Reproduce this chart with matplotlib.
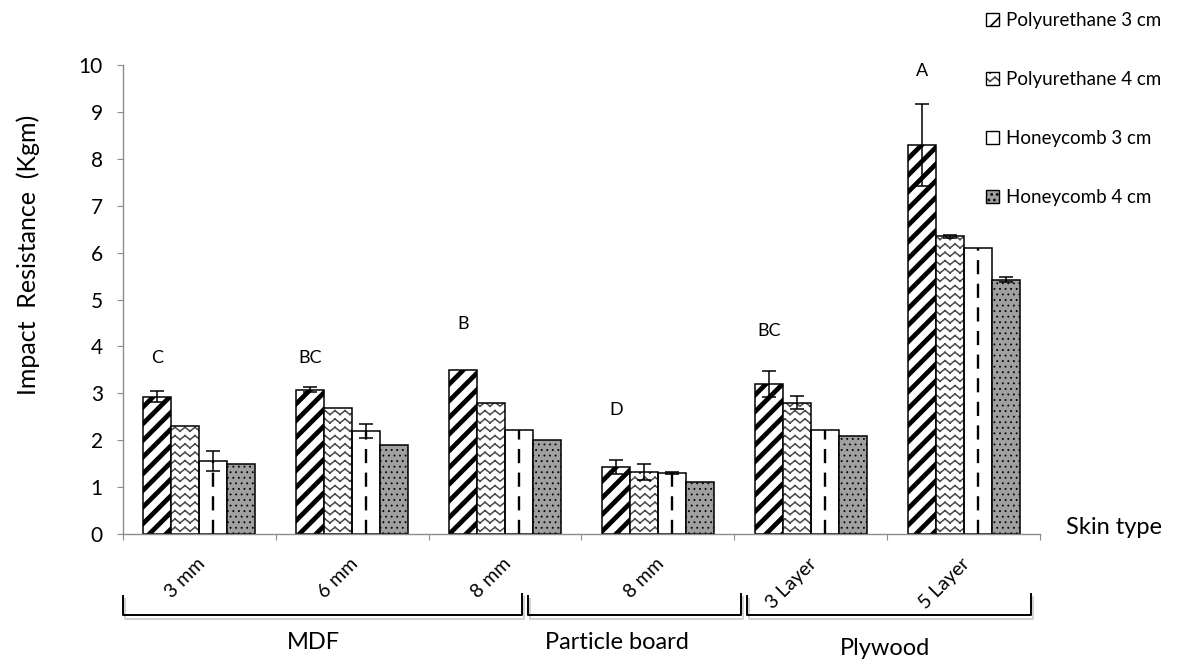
import numpy as np
import matplotlib
matplotlib.use('Agg')
import matplotlib.pyplot as plt
import matplotlib.hatch as mhatch
import matplotlib.patheffects as pe
from matplotlib.path import Path
from matplotlib.patches import Patch
from matplotlib.legend_handler import HandlerTuple
from matplotlib.transforms import blended_transform_factory

# data
skins = ['3 mm', '6 mm', '8 mm', '8 mm', '3 Layer', '5 Layer']
groups = ['MDF', 'Particle board', 'Plywood']
series = ['Polyurethane 3 cm', 'Polyurethane 4 cm', 'Honeycomb 3 cm', 'Honeycomb 4 cm']

pu3 = [2.93, 3.08, 3.50, 1.43, 3.20, 8.29]
pu4 = [2.31, 2.69, 2.80, 1.33, 2.80, 6.35]
hc3 = [1.56, 2.20, 2.22, 1.30, 2.21, 6.09]
hc4 = [1.50, 1.90, 2.00, 1.10, 2.10, 5.42]

pu3_err = [0.11, 0.06, 0.0, 0.15, 0.28, 0.87]
pu4_err = [0.0, 0.0, 0.0, 0.17, 0.14, 0.03]
hc3_err = [0.22, 0.15, 0.0, 0.02, 0.0, 0.0]
hc4_err = [0.0, 0.0, 0.0, 0.0, 0.0, 0.05]

letters = ['C', 'BC', 'B', 'D', 'BC', 'A']
letter_y = [3.76, 3.76, 4.47, 2.65, 4.32, 9.87]


# custom hatches: wide diagonal stripes ('*') and zigzag rows ('o')
class WideDiag(mhatch.HatchPatternBase):
    def __init__(self, hatch, density):
        self.num_lines = hatch.count('*') * 12
        self.num_vertices = (self.num_lines + 1) * 2 if self.num_lines else 0

    def set_vertices_and_codes(self, vertices, codes):
        steps = np.linspace(-0.5, 0.5, self.num_lines + 1)
        vertices[0::2, 0] = 0.0 + steps
        vertices[0::2, 1] = 0.0 - steps
        vertices[1::2, 0] = 1.0 + steps
        vertices[1::2, 1] = 1.0 - steps
        codes[0::2] = Path.MOVETO
        codes[1::2] = Path.LINETO


class ZigZag(mhatch.HatchPatternBase):
    # separate two-point segments so agg has nothing to fill
    waves = 10

    def __init__(self, hatch, density):
        self.rows = hatch.count('o') * 12
        self.num_vertices = self.rows * self.waves * 4

    def set_vertices_and_codes(self, vertices, codes):
        n = 2 * self.waves
        xs = np.linspace(0, 1, n + 1)
        up = np.where(np.arange(n + 1) % 2 == 1, 0.04, 0.0)
        k = 0
        for i in range(self.rows):
            y0 = (i + 0.25) / self.rows
            for j in range(n):
                vertices[k] = (xs[j], y0 + up[j])
                vertices[k + 1] = (xs[j + 1], y0 + up[j + 1])
                codes[k] = Path.MOVETO
                codes[k + 1] = Path.LINETO
                k += 2


for i, cls in enumerate(mhatch._hatch_types):
    if cls is mhatch.SmallCircles:
        mhatch._hatch_types[i] = ZigZag
    elif cls is mhatch.Stars:
        mhatch._hatch_types[i] = WideDiag


def hatch_lw(bars, lw):
    for p in bars:
        try:
            p.set_hatch_linewidth(lw)
        except AttributeError:
            pass


plt.rcParams['font.family'] = ['Lato', 'DejaVu Sans']
plt.rcParams['hatch.linewidth'] = 1.2

fig = plt.figure(figsize=(11.77, 6.6), dpi=100)
ax = fig.add_axes([0.1045, 0.1909, 0.7791, 0.7106])

x = np.arange(len(skins)) + 0.5
w = 0.183
xs = [x + (k - 1.5) * w for k in range(4)]

b1 = ax.bar(xs[0], pu3, w, facecolor='white', edgecolor='black', lw=1.1, hatch='*', zorder=2)
hatch_lw(b1, 3.4)
b2h = ax.bar(xs[1], pu4, w, facecolor='white', edgecolor='#4a4a4a', lw=0, hatch='o', zorder=2)
hatch_lw(b2h, 1.1)
b2 = ax.bar(xs[1], pu4, w, fill=False, edgecolor='black', lw=1.1, zorder=2.1)
b3 = ax.bar(xs[2], hc3, w, facecolor='white', edgecolor='black', lw=1.1, zorder=2)
ax.vlines(xs[2], 0, hc3, colors='black', lw=1.7, linestyles=(0, (6.0, 4.0)), zorder=2.05)
b4 = ax.bar(xs[3], hc4, w, facecolor='#a0a0a0', edgecolor='black', lw=1.1, hatch='...', zorder=2)
hatch_lw(b4, 0.6)

for k, (vals, errs) in enumerate([(pu3, pu3_err), (pu4, pu4_err), (hc3, hc3_err), (hc4, hc4_err)]):
    m = np.array(errs) > 0
    ax.errorbar(xs[k][m], np.array(vals)[m], yerr=np.array(errs)[m], fmt='none',
                ecolor='black', elinewidth=1.1, capsize=5, capthick=1.1, zorder=3)

for xi, lab, yl in zip(xs[0], letters, letter_y):
    ax.text(xi, yl, lab, ha='center', va='center', fontsize=13)

ax.set_xlim(0, len(skins))
ax.set_ylim(0, 10)
ax.set_yticks(range(0, 11))
ax.set_xticks(range(0, len(skins) + 1))
ax.set_xticklabels([])
for s in ['top', 'right']:
    ax.spines[s].set_visible(False)
for s in ['left', 'bottom']:
    ax.spines[s].set_color('#8c8c8c')
    ax.spines[s].set_linewidth(1.0)
ax.tick_params(axis='y', direction='out', length=4.5, color='#8c8c8c', labelsize=15, pad=10)
ax.tick_params(axis='x', direction='out', length=4.5, color='#8c8c8c')

fig.text(0.024, 0.614, 'Impact  Resistance  (Kgm)', rotation=90, ha='center', va='center', fontsize=18)
fig.text(0.9057, 0.2, 'Skin type', ha='left', va='center', fontsize=17)

# skin labels and group brackets below the axis
tr = blended_transform_factory(ax.transData, fig.transFigure)
for xi, lab in zip(x, skins):
    ax.text(xi + 0.02, 0.15, lab, transform=tr, rotation=45, rotation_mode='anchor',
            ha='right', va='center', fontsize=14)

bracket_spans = [(0.0, 2.611), (2.65, 4.044), (4.083, 5.94)]
group_x = [1.243, 3.232, 4.986]
group_y = [0.026, 0.026, 0.018]
for (a, b), gx, gy, g in zip(bracket_spans, group_x, group_y, groups):
    ln, = ax.plot([a, a, b, b], [0.097, 0.068, 0.068, 0.100], transform=tr, color='black',
                  lw=1.4, clip_on=False)
    ln.set_path_effects([pe.SimpleLineShadow(offset=(1.5, -2.5), alpha=0.18, shadow_color='black'),
                         pe.Normal()])
    ax.text(gx, gy, g, transform=tr, ha='center', va='center', fontsize=17)

handles = [Patch(facecolor='white', edgecolor='black', hatch='*', lw=1.0),
           (Patch(facecolor='white', edgecolor='#4a4a4a', hatch='o', lw=0),
            Patch(fill=False, edgecolor='black', lw=1.0)),
           Patch(facecolor='white', edgecolor='black', lw=1.0),
           Patch(facecolor='#a0a0a0', edgecolor='black', hatch='...', lw=1.0)]
fig.legend(handles, series, loc='upper left', bbox_to_anchor=(0.838, 0.982), frameon=False,
           fontsize=13.5, handlelength=0.7, handleheight=0.7, handletextpad=0.35,
           labelspacing=2.25, borderpad=0, borderaxespad=0,
           handler_map={tuple: HandlerTuple(ndivide=1, pad=0)})

fig.savefig('out.png', dpi=100)
